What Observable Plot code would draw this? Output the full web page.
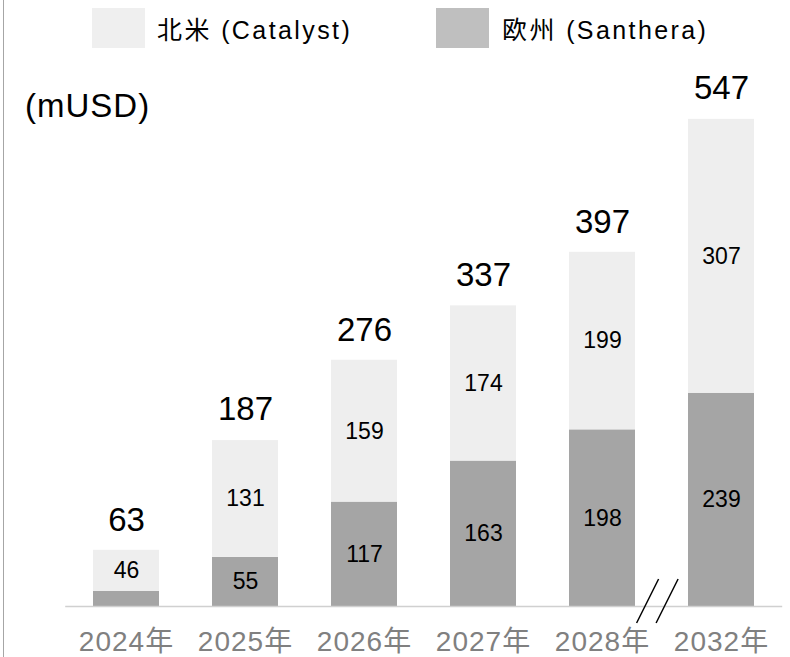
<!DOCTYPE html>
<html><head><meta charset="utf-8">
<script src="https://cdn.jsdelivr.net/npm/d3@7"></script>
<script src="https://cdn.jsdelivr.net/npm/@observablehq/plot@0.6"></script>
<style>
body{margin:0;background:#fff;}
#wrap{position:relative;width:790px;height:657px;overflow:hidden;font-family:"Liberation Sans","Noto Sans CJK JP",sans-serif;}
#border{position:absolute;left:3px;top:0;width:1px;height:657px;background:#a6a6a6;}
.sw{position:absolute;top:8px;width:53px;height:40px;}
.lt{position:absolute;top:13px;font-size:25px;line-height:34px;letter-spacing:2.4px;color:#000;white-space:nowrap;}
#unit{position:absolute;left:25px;top:86px;font-size:33px;line-height:40px;letter-spacing:1px;color:#000;}
#chart{position:absolute;left:0;top:0;}
</style></head>
<body>
<div id="wrap">
  <div id="chart"></div>
  <div id="border"></div>
  <div class="sw" style="left:92px;background:#efefef"></div>
  <div class="lt" id="l1" style="left:157px"></div>
  <div class="sw" style="left:436px;background:#bfbfbf"></div>
  <div class="lt" id="l2" style="left:502px"></div>
  <div id="unit">(mUSD)</div>
</div>
<script>
const years = ["2024年","2025年","2026年","2027年","2028年","2032年"];
const europe = [17,55,117,163,198,239];
const northAmerica = [46,131,159,174,199,307];
const totals = [63,187,276,337,397,547];
const seriesNames = ["欧州 (Santhera)","北米 (Catalyst)"];
const seriesColors = ["#a5a5a5","#eeeeee"];

document.getElementById("l1").textContent = seriesNames[1];
document.getElementById("l2").textContent = seriesNames[0];

const rows = [];
years.forEach((y,i)=>{
  rows.push({year:y, series:seriesNames[0], value:europe[i]});
  rows.push({year:y, series:seriesNames[1], value:northAmerica[i]});
});

const padIn = 0.448;
const font = "'Liberation Sans','Noto Sans CJK JP',sans-serif";

function breakMark(index, scales, values, dimensions) {
  const x = scales.x, y = scales.y;
  const step = x(years[5]) - x(years[4]);
  const mid = x(years[5]) - step*padIn/2 - 4;
  const y0 = y(0);
  const g = d3.create("svg:g").attr("stroke","#000").attr("stroke-width",1.5);
  [-9.75, 9.75].forEach(o=>{
    g.append("line")
      .attr("x1", mid+o-11).attr("y1", y0+17)
      .attr("x2", mid+o+11).attr("y2", y0-27);
  });
  return g.node();
}

const plot = Plot.plot({
  width: 790,
  height: 657,
  marginTop: 118,
  marginBottom: 51,
  marginLeft: 65.2,
  marginRight: 7.8,
  style: {fontFamily: font, background: "transparent"},
  x: {domain: years, paddingInner: padIn, paddingOuter: padIn/2, axis: null},
  y: {domain: [0, 547], axis: null},
  color: {domain: seriesNames, range: seriesColors},
  marks: [
    Plot.barY(rows, {x:"year", y:"value", fill:"series", order: seriesNames}),
    Plot.ruleY([0], {stroke:"#d0d0d0", strokeWidth:1.5}),
    Plot.text(rows, Plot.stackY({x:"year", y:"value", z:"series", order: seriesNames,
      text: d => d.value >= 20 ? String(d.value) : "", fontSize: 23, fill:"#000"})),
    Plot.text(years, {x: d=>d, y: (d,i)=>totals[i], dy: -30, text: (d,i)=>String(totals[i]), fontSize: 33, fill:"#000"}),
    Plot.text(years, {x: d=>d, y: 0, dy: 36, text: d=>d, fontSize: 28, fill:"#808080"}),
    breakMark
  ]
});
d3.select(plot).selectAll("text").filter(function(){ return this.textContent.includes("年"); })
  .attr("letter-spacing", "1px");
document.getElementById("chart").appendChild(plot);
</script>
</body></html>
